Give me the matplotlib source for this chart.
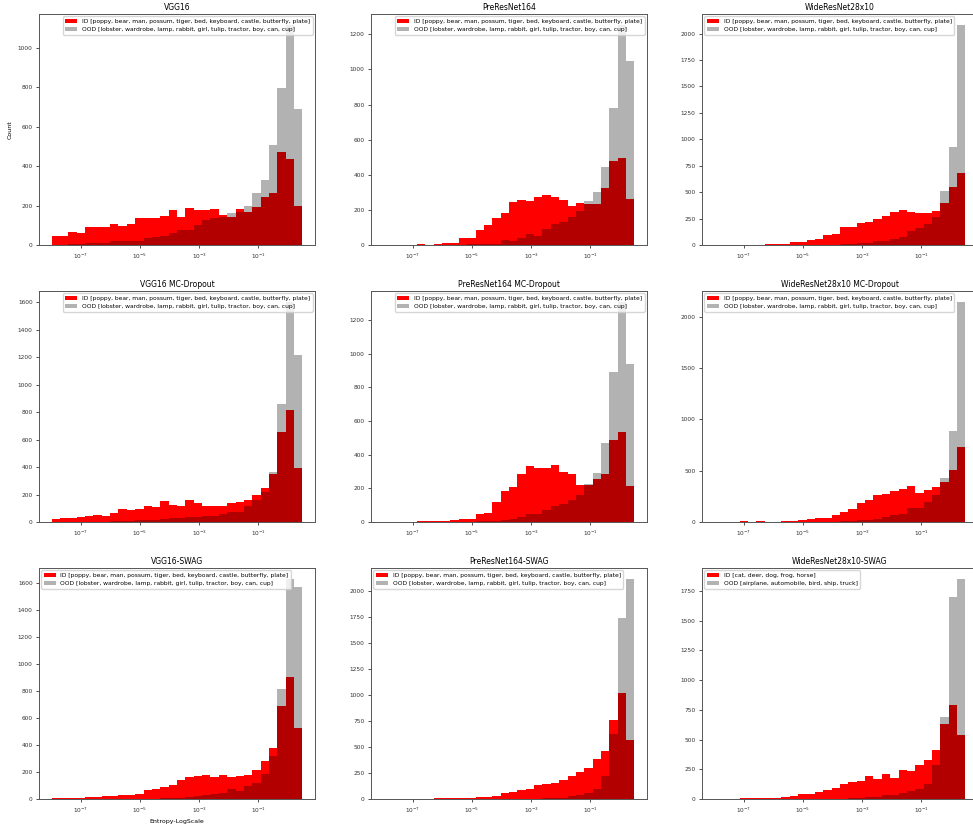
import numpy as np
from matplotlib import pyplot as plt
import matplotlib
matplotlib.use("Agg")

# entropy range (log10) shared by all histograms, 30 bins
LOG_MIN = -7.99
LOG_MAX = 0.49
N_BINS = 30

titles = ["VGG16", "PreResNet164", "WideResNet28x10",
          "VGG16 MC-Dropout", "PreResNet164 MC-Dropout", "WideResNet28x10 MC-Dropout",
          "VGG16-SWAG", "PreResNet164-SWAG", "WideResNet28x10-SWAG"]

id_c100 = "ID [poppy, bear, man, possum, tiger, bed, keyboard, castle, butterfly, plate]"
ood_c100 = "OOD [lobster, wardrobe, lamp, rabbit, girl, tulip, tractor, boy, can, cup]"
id_c10 = "ID [cat, deer, dog, frog, horse]"
ood_c10 = "OOD [airplane, automobile, bird, ship, truck]"

# counts per bin
vgg_id = [47, 44, 68, 59, 93, 93, 93, 107, 97, 105, 139, 139, 139, 146, 176,
          142, 188, 176, 176, 181, 153, 144, 181, 165, 195, 242, 264, 471, 435, 200]
vgg_ood = [2, 2, 4, 3, 10, 12, 12, 18, 20, 20, 18, 38, 40, 45, 60,
           75, 78, 100, 128, 138, 140, 164, 165, 200, 264, 330, 508, 798, 1115, 690]

pre_id = [0, 0, 0, 0, 3, 0, 3, 12, 12, 38, 38, 88, 114, 154, 181,
          243, 259, 253, 274, 282, 272, 255, 223, 238, 236, 236, 324, 477, 497, 263]
pre_ood = [0, 0, 0, 0, 0, 0, 0, 0, 1, 2, 3, 5, 5, 8, 28,
           22, 40, 60, 53, 92, 120, 133, 160, 195, 251, 301, 446, 783, 1253, 1050]

wrn_id = [0, 0, 0, 0, 4, 3, 8, 10, 14, 30, 24, 50, 57, 98, 104,
          170, 174, 205, 218, 243, 276, 312, 328, 310, 305, 300, 320, 396, 545, 678]
wrn_ood = [0, 0, 0, 0, 0, 0, 0, 0, 0, 0, 1, 1, 2, 3, 4,
           6, 8, 15, 22, 35, 40, 55, 72, 128, 165, 200, 265, 510, 925, 2082]

vgg_mc_id = [22, 27, 30, 40, 45, 52, 47, 67, 93, 88, 95, 120, 112, 152, 127,
             115, 157, 137, 115, 115, 115, 137, 142, 163, 200, 248, 350, 655, 812, 393]
vgg_mc_ood = [0, 0, 0, 0, 1, 2, 3, 5, 8, 10, 12, 15, 18, 25, 30,
              28, 35, 40, 42, 45, 60, 70, 75, 118, 158, 218, 365, 855, 1600, 1215]

pre_mc_id = [0, 0, 0, 0, 3, 6, 6, 5, 10, 15, 20, 47, 52, 120, 184,
             205, 287, 330, 320, 320, 340, 298, 283, 222, 218, 257, 283, 490, 532, 213]
pre_mc_ood = [0, 0, 0, 0, 0, 0, 0, 0, 0, 1, 2, 3, 5, 8, 12,
              20, 30, 48, 50, 72, 96, 107, 128, 160, 228, 290, 467, 893, 1307, 940]

wrn_mc_id = [0, 0, 0, 8, 0, 8, 4, 4, 10, 12, 22, 25, 36, 38, 70,
             100, 130, 185, 210, 262, 275, 298, 320, 355, 285, 308, 338, 395, 510, 730]
wrn_mc_ood = [0, 0, 0, 0, 0, 0, 0, 0, 0, 0, 0, 0, 1, 2, 3,
              5, 8, 15, 18, 30, 50, 70, 80, 135, 140, 198, 265, 430, 890, 2146]

vgg_swag_id = [6, 10, 8, 10, 12, 16, 20, 20, 28, 30, 35, 67, 75, 89, 103,
               140, 163, 168, 175, 163, 175, 160, 168, 178, 215, 282, 380, 688, 902, 528]
vgg_swag_ood = [0, 0, 0, 0, 0, 0, 0, 0, 0, 1, 1, 2, 3, 4, 6,
                10, 15, 20, 30, 35, 45, 75, 60, 97, 120, 188, 318, 812, 1627, 1565]

pre_swag_id = [0, 0, 0, 0, 0, 0, 5, 8, 10, 12, 14, 15, 24, 30, 58,
               65, 82, 100, 132, 145, 155, 185, 222, 258, 298, 380, 460, 760, 1022, 563]
pre_swag_ood = [0, 0, 0, 0, 0, 0, 0, 0, 0, 0, 0, 0, 0, 0, 1,
                1, 2, 3, 4, 5, 8, 12, 30, 40, 60, 100, 225, 628, 1740, 2112]

wrn_swag_id = [0, 0, 0, 5, 5, 8, 10, 12, 18, 28, 38, 40, 62, 72, 95,
               130, 147, 150, 195, 165, 212, 180, 248, 235, 290, 328, 410, 628, 795, 535]
wrn_swag_ood = [0, 0, 0, 0, 0, 0, 0, 0, 0, 0, 0, 0, 1, 1, 2,
                3, 5, 10, 15, 20, 30, 35, 48, 65, 85, 130, 285, 688, 1700, 1851]

id_counts = [vgg_id, pre_id, wrn_id, vgg_mc_id, pre_mc_id, wrn_mc_id,
             vgg_swag_id, pre_swag_id, wrn_swag_id]
ood_counts = [vgg_ood, pre_ood, wrn_ood, vgg_mc_ood, pre_mc_ood, wrn_mc_ood,
              vgg_swag_ood, pre_swag_ood, wrn_swag_ood]


def main():
    W, H = 973, 824
    fig = plt.figure(figsize=(W / 100, H / 100), dpi=100)

    edges = np.logspace(LOG_MIN, LOG_MAX, N_BINS + 1)
    centers = np.sqrt(edges[:-1] * edges[1:])

    lefts = [39, 371, 702]
    tops = [14, 291, 568]
    aw, ah = 276, 231
    legend_locs = ["upper right", "upper right", "upper left",
                   "upper right", "upper right", "upper left",
                   "upper left", "upper left", "upper left"]

    for i in range(9):
        r, c = divmod(i, 3)
        ax = fig.add_axes([lefts[c] / W, 1 - (tops[r] + ah) / H, aw / W, ah / H])
        if i == 8:
            lab_id, lab_ood = id_c10, ood_c10
        else:
            lab_id, lab_ood = id_c100, ood_c100
        ax.hist(centers, bins=edges, weights=id_counts[i], color="red", label=lab_id)
        ax.hist(centers, bins=edges, weights=ood_counts[i], color="black", alpha=0.3,
                label=lab_ood)
        ax.set_xscale("log")
        ax.set_xticks([1e-7, 1e-5, 1e-3, 1e-1])
        ax.xaxis.set_minor_locator(matplotlib.ticker.NullLocator())
        ax.tick_params(labelsize=4.2, length=2.5, width=0.6, colors="#333333", pad=2)
        for s in ax.spines.values():
            s.set_linewidth(0.7)
            s.set_color("#555555")
        ax.set_title(titles[i], fontsize=5.5, pad=3)
        ax.legend(loc=legend_locs[i], fontsize=4.3, borderaxespad=0.4)
        if i == 0:
            ax.set_ylabel("Count", fontsize=4.5, labelpad=4)
        if i == 6:
            ax.set_xlabel("Entropy-LogScale", fontsize=4.5, labelpad=3)

    fig.savefig("out.png", dpi=100)


if __name__ == '__main__':
    main()
